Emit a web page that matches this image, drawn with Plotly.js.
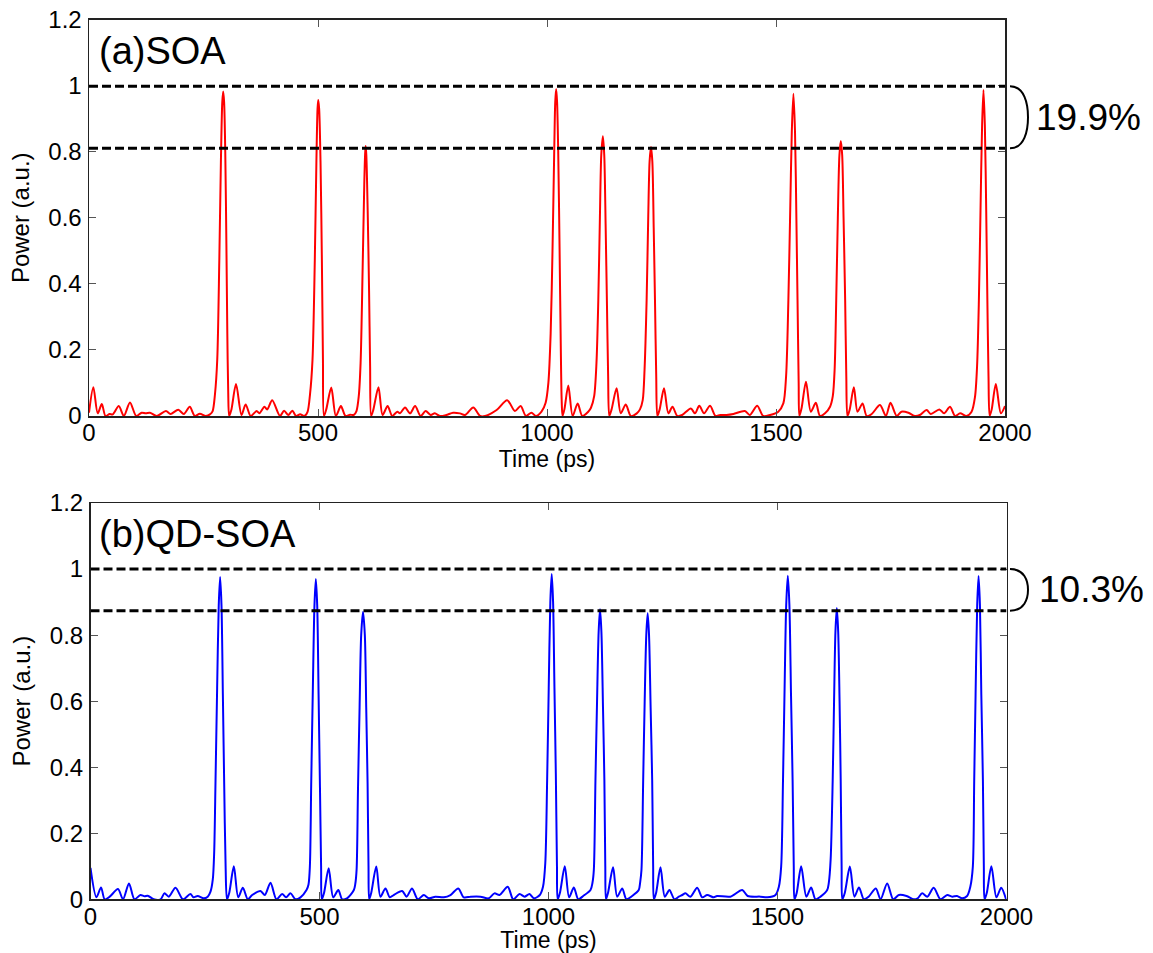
<!DOCTYPE html>
<html>
<head>
<meta charset="utf-8">
<script src="https://cdn.plot.ly/plotly-3.0.1.min.js"></script>
<style>
  html, body { margin: 0; padding: 0; background: #fff; }
  #chart { width: 1153px; height: 953px; }
</style>
</head>
<body>
<div id="chart"></div>
<script>
// Output pulse trains: [time (ps), power (a.u.)]
const soaSamples = [
  [0,0.01],[9.5,0.087],[19,0.008],[28,0.036],[36,0],[45,0.006],[52,0.005],[65,0.03],[76,0],
  [89.5,0.041],[103,0],[115,0.01],[124,0.008],[133,0.01],[148,0],[168,0.015],[178,0.006],
  [195,0.019],[207,0.006],[220,0.028],[231,0],[242,0.007],[255,0],[265,0.006],[270,0.015],
  [275,0.065],[280,0.17],[284.5,0.47],[288,0.77],[291,0.95],[293,0.982],[295,0.95],[297.5,0.8],
  [300,0.52],[302,0.25],[304,0.07],[306,0],[311,0.02],[321,0.097],[333,0.003],[342,0.035],
  [353,0],[366,0.015],[372,0.008],[383,0.028],[389,0.02],[400,0.048],[417,0],[426,0.016],
  [435,0.003],[444,0.016],[452,0],[461,0.005],[470,0],[477,0.012],[482.5,0.065],[488,0.17],
  [493,0.47],[496.5,0.77],[499,0.93],[500.5,0.956],[502.5,0.93],[505.5,0.77],[508.5,0.47],
  [510.8,0.17],[513,0],[518,0.02],[529,0.086],[539,0],[550,0.03],[560,0],[570,0.004],
  [578,0.003],[584,0.015],[589,0.06],[593,0.16],[597.5,0.45],[601,0.7],[602.8,0.79],
  [604,0.817],[605.5,0.79],[608.5,0.62],[611.5,0.38],[613.8,0.15],[616,0],[621,0.02],
  [632,0.087],[641,0.003],[652,0.03],[662,0],[673,0.013],[679,0.008],[690,0.026],[701,0.008],
  [712,0.03],[724,0],[735,0.015],[746,0.003],[755,0.008],[766,0],[780,0.003],[795,0.01],
  [810,0.008],[821,0.003],[839,0.026],[854,0],[865,0],[890,0.018],[913,0.048],[930,0.015],
  [942.5,0.03],[954,0],[966,0.01],[976,0],[988,0.013],[997,0.04],[1003,0.1],[1008,0.25],
  [1012,0.5],[1016,0.82],[1018,0.95],[1020,0.99],[1022,0.95],[1024.5,0.8],[1027.5,0.5],
  [1030,0.22],[1032,0.05],[1034,0],[1038,0.02],[1046.5,0.092],[1056,0],[1067,0.038],
  [1077,0],[1090,0.013],[1096,0.025],[1103,0.06],[1108,0.16],[1112,0.35],[1115.5,0.6],
  [1118.5,0.79],[1122,0.847],[1125,0.79],[1128,0.58],[1131,0.33],[1133.5,0.12],[1136,0],
  [1141,0.02],[1152,0.084],[1161,0.008],[1172,0.035],[1183,0],[1196,0.008],[1203,0.02],
  [1209,0.048],[1213,0.14],[1217.5,0.35],[1221,0.6],[1224,0.77],[1227,0.814],[1230,0.77],
  [1233,0.57],[1236,0.33],[1238.5,0.12],[1241,0],[1246,0.02],[1255.5,0.084],[1265,0.008],
  [1274,0.028],[1284.5,0],[1295,0.003],[1314,0.023],[1323,0.008],[1332.5,0.031],[1343,0.008],
  [1356,0.031],[1368,0],[1378,0.003],[1392,0.003],[1407,0.006],[1432,0.015],[1443,0.003],
  [1459,0.031],[1472,0],[1487,0.003],[1505,0.013],[1516,0.038],[1522,0.12],[1527,0.35],
  [1531,0.62],[1534.5,0.86],[1538,0.975],[1541.5,0.86],[1544.5,0.6],[1547,0.35],[1549.5,0.1],
  [1551,0],[1556,0.025],[1565.5,0.104],[1576,0.013],[1587,0.04],[1596,0],[1607,0.008],
  [1618,0.028],[1624,0.06],[1628,0.14],[1631.5,0.35],[1635,0.6],[1638.5,0.79],[1641.5,0.832],
  [1644.5,0.79],[1647.5,0.6],[1651,0.35],[1653.5,0.12],[1656,0],[1661,0.02],[1670,0.087],
  [1678,0.013],[1689,0.038],[1698,0],[1709,0.006],[1727,0.033],[1740,0],[1750,0.04],
  [1763.5,0],[1774,0.013],[1789,0.01],[1803.5,0],[1814,0.003],[1829,0.018],[1838,0.006],
  [1856.6,0.02],[1867,0.008],[1880,0.028],[1891,0],[1902,0.008],[1916,0],[1927,0.013],
  [1934.5,0.058],[1939,0.15],[1943,0.35],[1946.5,0.62],[1950,0.88],[1953,0.987],[1956,0.88],
  [1959,0.62],[1961.5,0.35],[1964,0.12],[1966.5,0],[1971,0.02],[1980,0.097],[1991,0.008],
  [2000,0.03]
];

const qdSamples = [
  [0,0.095],[13,0.006],[23,0.036],[31,0],[42,0.008],[60,0.031],[71,0],[84,0.048],[96,0],
  [109,0.013],[118,0.009],[125,0.011],[138,0],[153,0],[161.6,0.018],[171,0.008],[185.6,0.035],
  [202,0],[218,0.016],[225,0.006],[234,0.01],[247,0.003],[256,0.008],[262,0.023],[267,0.06],
  [270,0.14],[273,0.36],[276.5,0.64],[280,0.89],[283,0.976],[286,0.89],[289,0.62],[292,0.34],
  [295,0.1],[298,0],[303,0.02],[313,0.1],[322.5,0.006],[332.6,0.035],[343.5,0],[353,0.013],
  [371,0.025],[380.6,0.013],[393,0.05],[406,0],[418.5,0.016],[427,0.006],[436.7,0.018],
  [447.6,0],[458.5,0.006],[471.6,0.028],[476,0.045],[479,0.1],[482,0.36],[485.5,0.64],
  [489,0.89],[492,0.97],[495,0.89],[498,0.62],[501,0.34],[503.5,0.1],[505,0],[510,0.02],
  [520,0.094],[530,0.006],[541,0.028],[549.5,0],[560,0.003],[575,0.028],[578,0.045],
  [581,0.09],[584,0.33],[587.5,0.58],[591,0.8],[595,0.871],[599,0.8],[602,0.58],[605,0.35],
  [607,0.1],[608.5,0],[613,0.02],[624,0.099],[633,0.008],[644,0.033],[653.5,0.006],
  [662,0.013],[680.5,0.025],[690,0.008],[702,0.033],[714.6,0],[727.8,0.013],[738.7,0.003],
  [753,0.008],[771.5,0.006],[786,0.013],[803,0.033],[815,0.006],[830,0.008],[851.5,0.008],
  [869.7,0.003],[882,0.018],[893,0.013],[911,0.038],[923,0],[937,0.016],[947.6,0.008],
  [958.5,0.016],[968,0.003],[981,0.013],[988,0.038],[993,0.11],[997,0.36],[1000.5,0.64],
  [1004,0.9],[1007,0.985],[1010,0.9],[1013,0.64],[1016,0.38],[1018.5,0.1],[1020,0],
  [1025,0.02],[1035.6,0.1],[1045,0.006],[1055.3,0.036],[1065,0],[1075.7,0.01],[1091.7,0.028],
  [1096,0.05],[1099,0.089],[1102.5,0.36],[1106,0.6],[1109.5,0.81],[1112.5,0.878],
  [1115.5,0.81],[1119,0.58],[1122,0.36],[1124,0.1],[1125.5,0],[1130,0.02],[1141,0.097],
  [1150,0.008],[1161,0.033],[1170,0],[1182.7,0.01],[1197,0.028],[1200,0.05],[1203,0.089],
  [1206.7,0.36],[1210,0.6],[1213.5,0.8],[1216.5,0.866],[1219.5,0.8],[1223,0.58],
  [1226.4,0.36],[1228.5,0.1],[1230,0],[1235,0.02],[1244.5,0.097],[1254,0.008],[1264,0.028],
  [1275,0],[1284.5,0.008],[1292,0.013],[1299,0.018],[1310,0.008],[1324.6,0.035],
  [1335.6,0.006],[1346.5,0.013],[1361,0.006],[1368,0.01],[1397,0.008],[1423,0.028],
  [1435,0.01],[1463,0.008],[1477.5,0.006],[1495.6,0.013],[1503,0.038],[1508,0.099],
  [1512,0.36],[1515.5,0.64],[1519,0.89],[1522.5,0.98],[1526,0.89],[1529.5,0.62],[1533,0.36],
  [1535.5,0.1],[1537,0],[1542,0.02],[1551.7,0.1],[1563,0.008],[1573.5,0.036],[1583,0],
  [1594,0.008],[1608.5,0.028],[1612,0.05],[1616,0.12],[1620.5,0.36],[1623.5,0.6],
  [1626.5,0.81],[1629.5,0.882],[1632.5,0.81],[1635.5,0.6],[1638,0.36],[1640,0.1],[1641.5,0],
  [1647,0.02],[1658,0.099],[1668,0.008],[1678,0.036],[1688.5,0],[1699,0.008],[1714.7,0.033],
  [1725,0],[1739.5,0.048],[1752.6,0],[1765,0.013],[1781.7,0.01],[1797.6,0],[1806,0.003],
  [1816,0.018],[1827,0.008],[1841,0.035],[1856,0],[1870.5,0.013],[1881.4,0.008],[1892,0.01],
  [1903,0.003],[1914,0.01],[1921,0.038],[1926.5,0.099],[1929.5,0.36],[1932.5,0.62],
  [1936,0.89],[1939,0.979],[1942,0.89],[1945,0.62],[1948.5,0.36],[1950.5,0.1],[1952,0],
  [1957,0.02],[1967,0.1],[1978,0.006],[1988.4,0.035],[1999,0]
];

// Peak-level guides [upper, lower] and the fluctuation they bracket
const soaLevels = [0.998, 0.810];
const qdLevels  = [1.000, 0.874];
const soaSpread = '19.9%';
const qdSpread  = '10.3%';
const panelLabels = ['(a)SOA', '(b)QD-SOA'];
const xTitle = 'Time (ps)';
const yTitle = 'Power (a.u.)';

const W = 1153, H = 953;
const FONT = 'Arial, "Liberation Sans", Helvetica, sans-serif';

const traces = [
  { x: soaSamples.map(d => d[0]), y: soaSamples.map(d => d[1]), xaxis: 'x', yaxis: 'y',
    type: 'scatter', mode: 'lines', line: { color: '#ff0000', width: 2, shape: 'spline', smoothing: 0.8 },
    hoverinfo: 'skip' },
  { x: qdSamples.map(d => d[0]), y: qdSamples.map(d => d[1]), xaxis: 'x2', yaxis: 'y2',
    type: 'scatter', mode: 'lines', line: { color: '#0000ff', width: 2, shape: 'spline', smoothing: 0.8 },
    hoverinfo: 'skip' }
];

function xAxis(domain, anchor) {
  return {
    domain, anchor, range: [0, 2000], tick0: 0, dtick: 500,
    showgrid: false, zeroline: false, showline: true, mirror: 'ticks',
    linecolor: '#222', linewidth: 1.5, ticks: 'inside', ticklen: 7, tickcolor: '#555',
    tickfont: { family: FONT, size: 24, color: '#000' }, ticklabelstandoff: -5,
    title: { text: xTitle, font: { family: FONT, size: 23, color: '#000' }, standoff: 0 }
  };
}
function yAxis(domain, anchor) {
  return {
    domain, anchor, range: [0, 1.2], tick0: 0, dtick: 0.2,
    showgrid: false, zeroline: false, showline: true, mirror: 'ticks',
    linecolor: '#222', linewidth: 1.5, ticks: 'inside', ticklen: 7, tickcolor: '#555',
    tickfont: { family: FONT, size: 24, color: '#000' }, ticklabelstandoff: 1,
    title: { text: yTitle, font: { family: FONT, size: 24, color: '#000' }, standoff: 12 }
  };
}

// Dashed peak-level guides and the bracket joining them
function guides(xref, yref, levels) {
  return levels.map(v => ({
    type: 'line', xref, yref, x0: 0, x1: 2000, y0: v, y1: v,
    line: { color: '#000', width: 3, dash: '9px,4px' }, layer: 'above'
  }));
}
function bracket(yref, levels) {
  const [hi, lo] = levels;
  const x0 = 1010 / W, x1 = 1028 / W, xc = x0 + 0.8 * (x1 - x0);
  const mid = (hi + lo) / 2, q = 0.28 * (hi - lo);
  return {
    type: 'path', xref: 'paper', yref,
    path: `M ${x0},${hi} C ${xc},${hi} ${x1},${hi - q} ${x1},${mid} C ${x1},${lo + q} ${xc},${lo} ${x0},${lo}`,
    line: { color: '#000', width: 2 }
  };
}

const layout = {
  width: W, height: H,
  margin: { l: 0, r: 0, t: 0, b: 0 },
  paper_bgcolor: '#fff', plot_bgcolor: '#fff',
  showlegend: false,
  xaxis:  xAxis([89 / W, 1005 / W], 'y'),
  yaxis:  yAxis([1 - 416 / H, 1 - 19.5 / H], 'x'),
  xaxis2: xAxis([90.5 / W, 1006.5 / W], 'y2'),
  yaxis2: yAxis([1 - 899.3 / H, 1 - 503 / H], 'x2'),
  shapes: [
    ...guides('x', 'y', soaLevels), bracket('y', soaLevels),
    ...guides('x2', 'y2', qdLevels), bracket('y2', qdLevels)
  ],
  annotations: [
    { text: panelLabels[0], xref: 'paper', yref: 'paper', x: 97 / W, y: 1 - 51 / H,
      xanchor: 'left', yanchor: 'middle', showarrow: false,
      font: { family: FONT, size: 38, color: '#000' } },
    { text: panelLabels[1], xref: 'paper', yref: 'paper', x: 97 / W, y: 1 - 534 / H,
      xanchor: 'left', yanchor: 'middle', showarrow: false,
      font: { family: FONT, size: 38, color: '#000' } },
    { text: soaSpread, xref: 'paper', yref: 'y', x: 1034 / W, y: (soaLevels[0] + soaLevels[1]) / 2,
      xanchor: 'left', yanchor: 'middle', showarrow: false,
      font: { family: FONT, size: 37, color: '#000' } },
    { text: qdSpread, xref: 'paper', yref: 'y2', x: 1037 / W, y: (qdLevels[0] + qdLevels[1]) / 2,
      xanchor: 'left', yanchor: 'middle', showarrow: false,
      font: { family: FONT, size: 37, color: '#000' } }
  ]
};

Plotly.newPlot('chart', traces, layout, { staticPlot: true, displayModeBar: false });
</script>
</body>
</html>
